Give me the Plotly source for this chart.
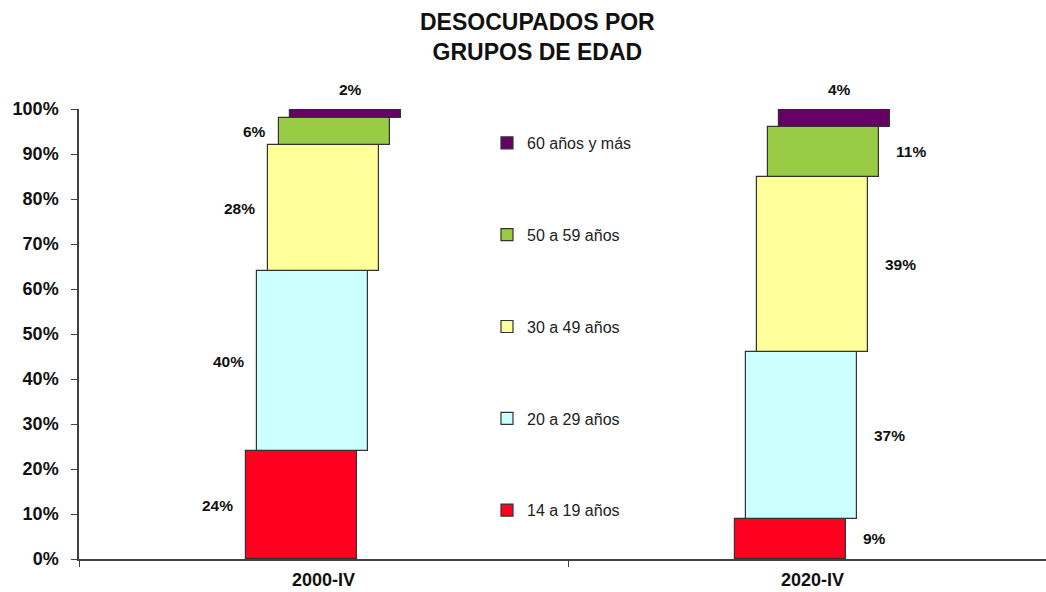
import plotly.graph_objects as go

# Unemployed by age group, share of total (%)
periods = ["2000-IV", "2020-IV"]
groups = ["14 a 19 años", "20 a 29 años", "30 a 49 años", "50 a 59 años", "60 años y más"]
share_2000 = [24, 40, 28, 6, 2]
share_2020 = [9, 37, 39, 11, 4]
colors = ["#ff0020", "#ccffff", "#ffff99", "#99cc44", "#660066"]
tick_vals = [0, 10, 20, 30, 40, 50, 60, 70, 80, 90, 100]
tick_text = [f"{v}%" for v in tick_vals]

# geometry of the staircase stacking (in category units; one category = 489 px)
CAT_PX = 489.0
BAR_W = 111 / CAT_PX
STEP = 11.1 / CAT_PX

series = [share_2000, share_2020]
fig = go.Figure()

base = [0, 0]
for k, name in enumerate(groups):
    vals = [s[k] for s in series]
    fig.add_trace(go.Bar(
        x=periods, y=vals, base=list(base), name=name,
        width=BAR_W, offset=(k - 2) * STEP - BAR_W / 2,
        marker=dict(color=colors[k], line=dict(color="#333333", width=1.2)),
        legendgroup=name, legendrank=len(groups) - k, hoverinfo="skip",
    ))
    base = [b + v for b, v in zip(base, vals)]

# value labels: left side for 2000-IV, right side for 2020-IV, top segment above
label_font = dict(family="Liberation Sans", size=15.5, color="#111111", weight="bold")
for p, period in enumerate(periods):
    vals = series[p]
    cum = 0
    for k, v in enumerate(vals):
        mid = cum + v / 2
        cum += v
        seg_center_px = (k - 2) * 11.1
        if k == len(vals) - 1:
            fig.add_annotation(x=period, y=100, text=f"{v}%", showarrow=False,
                               xshift=seg_center_px + 5, yshift=20,
                               font=label_font)
        elif p == 0:
            fig.add_annotation(x=period, y=mid, text=f"{v}%", showarrow=False,
                               xshift=seg_center_px - 55.5 - 11, xanchor="right",
                               font=label_font)
        else:
            fig.add_annotation(x=period, y=mid, text=f"{v}%", showarrow=False,
                               xshift=seg_center_px + 55.5 + 15, xanchor="left",
                               font=label_font)

# two-line heading
fig.add_annotation(
    text="DESOCUPADOS POR<br>GRUPOS DE EDAD",
    xref="paper", yref="paper", x=(537 - 79) / 967, y=1 + (109 - 37) / 450,
    xanchor="center", yanchor="middle", showarrow=False,
    font=dict(family="Liberation Sans", size=23, color="#111111", weight="bold"),
)

fig.update_layout(
    width=1046, height=592,
    margin=dict(l=79, r=0, t=109, b=33),
    paper_bgcolor="white", plot_bgcolor="white",
    barmode="overlay", bargap=0,
    font=dict(family="Liberation Sans", color="#111111"),
    legend=dict(
        x=(487 - 79) / 967, xanchor="left",
        y=1 - (126 - 109) / 450, yanchor="top",
        traceorder="grouped", tracegroupgap=68,
        font=dict(family="Liberation Sans", size=16, color="#222222"),
        bgcolor="rgba(0,0,0,0)", itemwidth=30,
    ),
    showlegend=True,
)

fig.update_xaxes(
    type="category", range=[-0.5, 1.4775], automargin=False,
    showline=True, linecolor="#404040", linewidth=1.5,
    ticks="outside", tickson="boundaries", ticklen=6, tickcolor="#404040",
    tickfont=dict(family="Liberation Sans", size=18, color="#111111", weight="bold"),
    ticklabelstandoff=4, showgrid=False, zeroline=False, fixedrange=True,
)
fig.update_yaxes(
    range=[0, 100], tickmode="array", tickvals=tick_vals, ticktext=tick_text,
    automargin=False,
    showline=True, linecolor="#404040", linewidth=1.5,
    ticks="outside", ticklen=6, tickcolor="#404040",
    tickfont=dict(family="Liberation Sans", size=18, color="#111111", weight="bold"),
    ticklabelstandoff=9, showgrid=False, zeroline=False, fixedrange=True,
)

fig.write_html("out.html")
